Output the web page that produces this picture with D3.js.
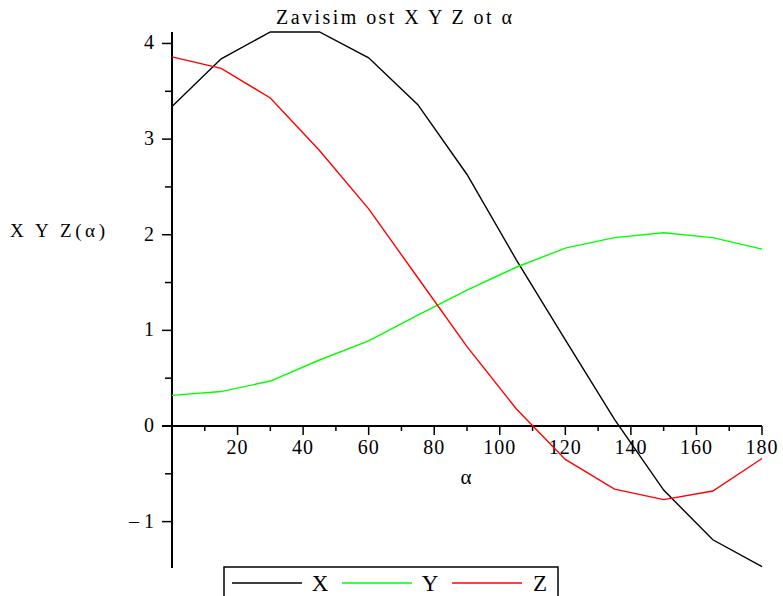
<!DOCTYPE html>
<html>
<head>
<meta charset="utf-8">
<script src="https://cdn.jsdelivr.net/npm/d3@7"></script>
<style>
  html, body { margin: 0; padding: 0; background: #fff; }
  svg { display: block; }
  svg text { font-family: "Times New Roman", "Liberation Serif", "Noto Serif", "DejaVu Serif", serif; }
</style>
</head>
<body>
<svg id="chart" width="783" height="596"></svg>
<script>
const alpha = [0, 15, 30, 45, 60, 75, 90, 105, 120, 135, 150, 165, 180];
const seriesX = [3.34, 3.84, 4.12, 4.12, 3.85, 3.36, 2.63, 1.74, 0.90, 0.07, -0.67, -1.19, -1.47];
const seriesY = [0.32, 0.36, 0.47, 0.69, 0.89, 1.16, 1.42, 1.66, 1.86, 1.97, 2.02, 1.97, 1.85];
const seriesZ = [3.86, 3.74, 3.43, 2.88, 2.27, 1.55, 0.83, 0.18, -0.35, -0.66, -0.77, -0.68, -0.34];
const xTicks = [20, 40, 60, 80, 100, 120, 140, 160, 180];
const yTicks = [-1, 0, 1, 2, 3, 4];
const seriesNames = ["X", "Y", "Z"];
const seriesColors = ["#000000", "#00ff00", "#ff0000"];
const titleText = "Zavisim ost X Y Z ot \u03b1";
const yLabelText = "X Y Z(\u03b1)";
const xLabelText = "\u03b1";

const svg = d3.select("#chart");
const x = d3.scaleLinear().domain([0, 180]).range([172, 762]);
const y = d3.scaleLinear().domain([-1.485, 4.12]).range([568, 32]);

function txt(g, tx, ty, size, s, anchor) {
  return g.append("text").attr("x", tx).attr("y", ty)
    .attr("font-size", size).attr("fill", "#000").attr("text-anchor", anchor || "start").text(s);
}

// x axis
const xAxisG = svg.append("g");
xAxisG.append("line").attr("x1", 162).attr("x2", x(180)).attr("y1", y(0)).attr("y2", y(0))
  .attr("stroke", "#000").attr("stroke-width", 2);
d3.range(10, 181, 10).forEach(v => {
  const major = v % 20 === 0;
  xAxisG.append("line").attr("x1", x(v)).attr("x2", x(v)).attr("y1", y(0)).attr("y2", y(0) + (major ? 9 : 5))
    .attr("stroke", "#000").attr("stroke-width", 1.5);
});
xTicks.forEach(v => {
  txt(xAxisG, x(v), y(0) + 28, 20, v, "middle").attr("letter-spacing", 1);
});

// y axis
const yAxisG = svg.append("g");
yAxisG.append("line").attr("x1", x(0)).attr("x2", x(0)).attr("y1", 32).attr("y2", 568)
  .attr("stroke", "#000").attr("stroke-width", 2);
d3.range(-1, 4.01, 0.5).forEach(v => {
  const major = Number.isInteger(v);
  yAxisG.append("line").attr("x1", x(0) - (major ? 10 : 7)).attr("x2", x(0)).attr("y1", y(v)).attr("y2", y(v))
    .attr("stroke", "#000").attr("stroke-width", 1.5);
});
yTicks.forEach(v => {
  txt(yAxisG, x(0) - 18, y(v) + 6, 20, v < 0 ? "\u2013 " + Math.abs(v) : v, "end");
});

// series
const line = d3.line().x((d, i) => x(alpha[i])).y(d => y(d));
[seriesX, seriesY, seriesZ].forEach((s, k) => {
  svg.append("path").datum(s).attr("d", line).attr("fill", "none")
    .attr("stroke", seriesColors[k]).attr("stroke-width", 1.4);
});

// title and labels
txt(svg, 276, 24, 20, titleText).attr("textLength", 236).attr("lengthAdjust", "spacing");
txt(svg, 10, 237, 19, yLabelText).attr("textLength", 95).attr("lengthAdjust", "spacing");
txt(svg, 466, 484, 21, xLabelText, "middle");

// legend
const lg = svg.append("g");
lg.append("rect").attr("x", 224).attr("y", 567).attr("width", 334).attr("height", 40)
  .attr("fill", "#fff").attr("stroke", "#000").attr("stroke-width", 1.5);
const legendX = [232, 342, 452];
seriesNames.forEach((n, k) => {
  lg.append("line").attr("x1", legendX[k]).attr("x2", legendX[k] + 70).attr("y1", 583).attr("y2", 583)
    .attr("stroke", seriesColors[k]).attr("stroke-width", 1.4);
  txt(lg, legendX[k] + 88, 591, 23, n, "middle");
});
</script>
</body>
</html>
